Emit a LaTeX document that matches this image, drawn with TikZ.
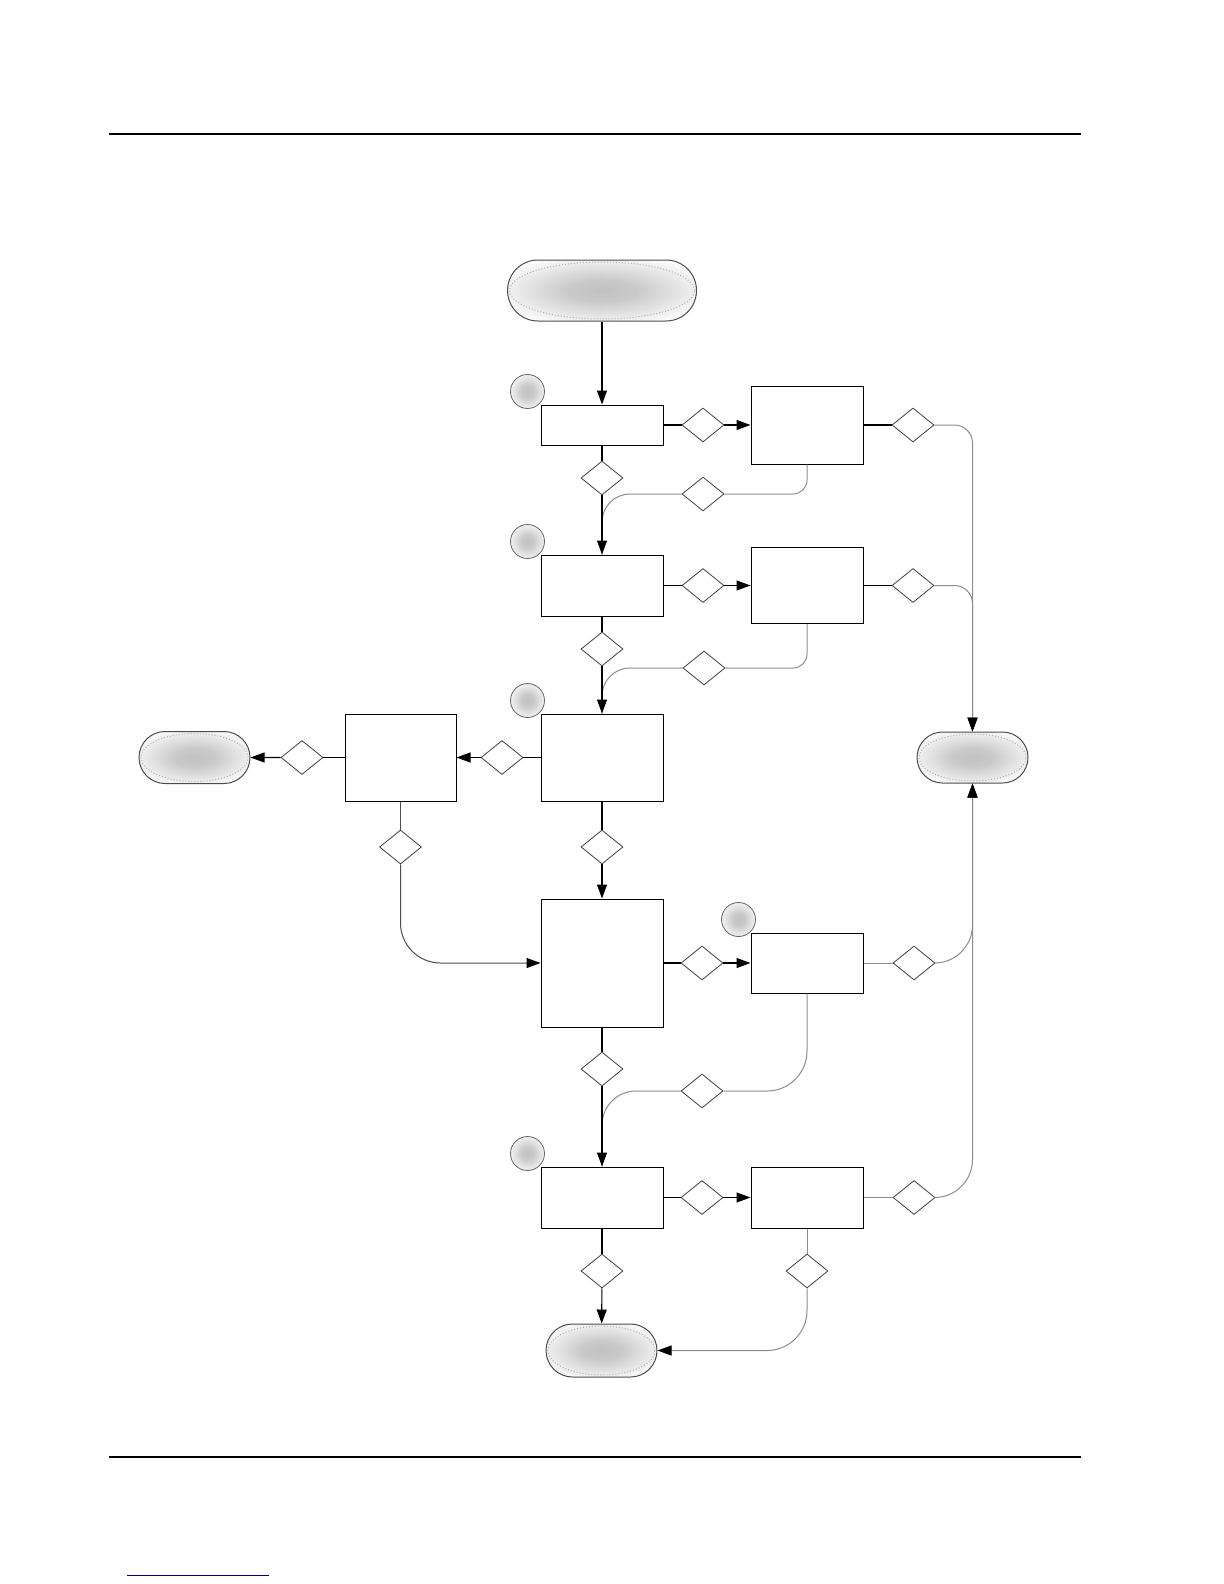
\documentclass[tikz,border=0pt]{standalone}
\usetikzlibrary{arrows.meta,positioning,shapes.geometric,shapes.misc,calc}
\pgfdeclareradialshading{softgray}{\pgfpoint{0bp}{0bp}}{color(0bp)=(black!24); color(9bp)=(black!21); color(31bp)=(white); color(50bp)=(white)}
\begin{document}
\begin{tikzpicture}[x=0.5pt,y=-0.5pt,
box/.style={draw,line width=0.5pt,minimum width=61pt,inner sep=0pt},
term/.style={rounded rectangle,draw=black!70,line width=0.5pt,shade,shading=softgray,inner sep=0pt,path picture={\draw[black!30,densely dotted] let \p1=(path picture bounding box.south west),\p2=(path picture bounding box.north east) in (path picture bounding box.center) ellipse ({(\x2-\x1)/2-1pt} and {(\y2-\y1)/2-1pt});}},
dia/.style={diamond,draw=black!75,line width=0.4pt,fill=white,minimum width=21pt,minimum height=17pt,inner sep=0pt},
badge/.style={circle,draw=black!60,line width=0.4pt,shade,shading=softgray,minimum size=17pt,inner sep=0pt},
main/.style={line width=0.55pt},
side/.style={draw=black!45,line width=0.5pt},
>={Triangle[length=7pt,width=5pt,color=black]}]
\useasboundingbox (0,0) rectangle (1224,1584);
\draw[line width=1.3pt](109,134)--(1081,134);
\draw[line width=1.3pt](109,1457)--(1081,1457);
\draw[blue!50!black,line width=0.5pt](127,1575)--(269,1575);
\node[term,minimum width=94.5pt,minimum height=30.5pt](start) at (602,290.5){};
\node[box,minimum height=20pt](a) at (602,425){};
\node[box,minimum width=56pt,minimum height=39pt](r1) at (807,425){};
\node[box,minimum height=30.5pt](b) at (602,585.5){};
\node[box,minimum width=56pt,minimum height=38pt](r2) at (807,585.5){};
\node[box,minimum height=43.5pt](c) at (602,757.5){};
\node[box,minimum width=55.5pt,minimum height=43.5pt](l) at (400.5,757.5){};
\node[term,minimum width=55.5pt,minimum height=26pt](endl) at (194.5,757.5){};
\node[term,minimum width=55.5pt,minimum height=25.5pt](endr) at (972.5,757.5){};
\node[box,minimum height=64pt](d) at (602,963){};
\node[box,minimum width=56pt,minimum height=30pt](r3) at (807,963){};
\node[box,minimum height=30.5pt](e) at (602,1197.5){};
\node[box,minimum width=56pt,minimum height=30.5pt](r4) at (807,1197.5){};
\node[term,minimum width=55.5pt,minimum height=26.5pt](endb) at (601.5,1350.5){};
\node[badge](ba) at ([shift={(-13,-13)}]a.north west){};
\node[badge](bb) at ([shift={(-13,-13)}]b.north west){};
\node[badge](bc) at ([shift={(-13,-13)}]c.north west){};
\node[badge](br3) at ([shift={(-12,-13)}]r3.north west){};
\node[badge](be) at ([shift={(-13,-13)}]e.north west){};
\node[dia](qar) at (703,425){};
\node[dia](qr1) at (913,425){};
\node[dia](qab) at (602,478){};
\node[dia](qs1) at (703,494){};
\node[dia](qbr) at (703,585.5){};
\node[dia](qr2) at (913,585.5){};
\node[dia](qbc) at (602,649){};
\node[dia](qs2) at (704,668){};
\node[dia](qcl) at (502,757.5){};
\node[dia](qle) at (302,757.5){};
\node[dia](ql) at (400.5,847){};
\node[dia](qcd) at (602,847){};
\node[dia](qdr) at (702,963){};
\node[dia](qr3) at (914,963){};
\node[dia](qde) at (602,1069){};
\node[dia](qs3) at (702,1091){};
\node[dia](qer) at (702,1197.5){};
\node[dia](qr4) at (914,1197.5){};
\node[dia](qeb) at (602,1271){};
\node[dia](qs4) at (807,1271){};
\draw[main,->](start)--(a);
\draw[main](a)--(qar);\draw[main,->](qar)--(r1);
\draw[main](r1)--(qr1);\draw[side,->,rounded corners=9pt](qr1.east)-|(endr.north);
\draw[side,rounded corners=7pt](r1.south)|-(qs1.east);\draw[side,rounded corners=14pt](qs1.west)-|(b.north);
\draw[main](a)--(qab);\draw[main,->](qab)--(b);
\draw[main](b)--(qbr);\draw[main,->](qbr)--(r2);
\draw[main](r2)--(qr2);\draw[side,->,rounded corners=9pt](qr2.east)-|(endr.north);
\draw[side,rounded corners=7pt](r2.south)|-(qs2.east);\draw[side,rounded corners=14pt](qs2.west)-|(c.north);
\draw[main](b)--(qbc);\draw[main,->](qbc)--(c);
\draw[main](c)--(qcl);\draw[main,->](qcl)--(l);
\draw[main](l)--(qle);\draw[main,->](qle)--(endl);
\draw[side,draw=black!70](l)--(ql);\draw[side,draw=black!70,->,rounded corners=20pt](ql.south)|-(d.west);
\draw[main](c)--(qcd);\draw[main,->](qcd)--(d);
\draw[main](d)--(qdr);\draw[main,->](qdr)--(r3);
\draw[side](r3)--(qr3);\draw[side,->,rounded corners=19pt](qr3.east)-|(endr.south);
\draw[side,rounded corners=20pt](r3.south)|-(qs3.east);\draw[side,rounded corners=17pt](qs3.west)-|(e.north);
\draw[main](d)--(qde);\draw[main,->](qde)--(e);
\draw[main](e)--(qer);\draw[main,->](qer)--(r4);
\draw[side](r4)--(qr4);\draw[side,->,rounded corners=19pt](qr4.east)-|(endr.south);
\draw[side](r4)--(qs4);\draw[side,->,rounded corners=20pt](qs4.south)|-(endb.east);
\draw[main](e)--(qeb);\draw[main,->](qeb)--(endb);
\end{tikzpicture}
\end{document}
